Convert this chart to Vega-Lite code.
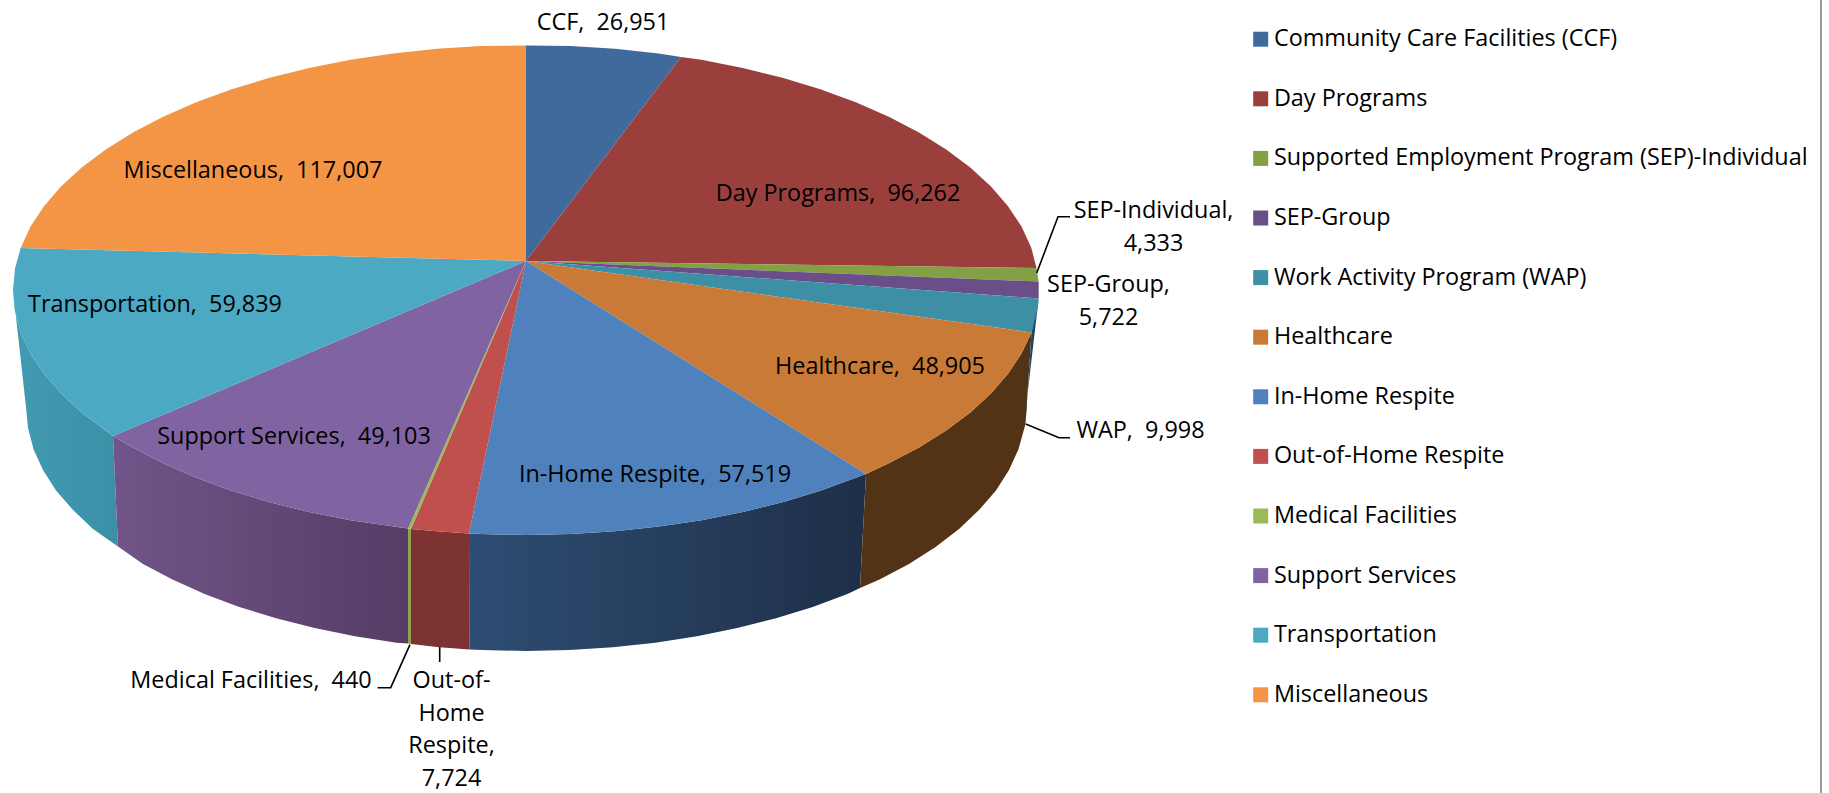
{"$schema":"https://vega.github.io/schema/vega-lite/v6.json","width":1829,"height":793,"padding":0,"autosize":{"type":"none"},"background":"white","view":{"stroke":null},
"config":{"font":"Open Sans"},
"datasets":{
"top":[
{"c":"Community Care Facilities (CCF)","s":0,"x":526,"y":261},{"c":"Community Care Facilities (CCF)","s":1,"x":526,"y":45.5},{"c":"Community Care Facilities (CCF)","s":2,"x":570.7,"y":46},{"c":"Community Care Facilities (CCF)","s":3,"x":615,"y":48.7},{"c":"Community Care Facilities (CCF)","s":4,"x":658.8,"y":53.4},{"c":"Community Care Facilities (CCF)","s":5,"x":681,"y":57},
{"c":"Day Programs","s":0,"x":526,"y":261},{"c":"Day Programs","s":1,"x":681,"y":57},{"c":"Day Programs","s":2,"x":701.5,"y":59.8},{"c":"Day Programs","s":3,"x":742.8,"y":68},{"c":"Day Programs","s":4,"x":782.5,"y":77.8},{"c":"Day Programs","s":5,"x":820.3,"y":89.3},{"c":"Day Programs","s":6,"x":855.8,"y":102.3},{"c":"Day Programs","s":7,"x":888.8,"y":116.8},{"c":"Day Programs","s":8,"x":919,"y":132.5},{"c":"Day Programs","s":9,"x":946.2,"y":149.5},{"c":"Day Programs","s":10,"x":970.3,"y":167.5},{"c":"Day Programs","s":11,"x":991,"y":186.5},{"c":"Day Programs","s":12,"x":1008,"y":206.2},{"c":"Day Programs","s":13,"x":1021.5,"y":226.6},{"c":"Day Programs","s":14,"x":1031.2,"y":247.5},{"c":"Day Programs","s":15,"x":1036.5,"y":268},
{"c":"Supported Employment Program (SEP)-Individual","s":0,"x":526,"y":261},{"c":"Supported Employment Program (SEP)-Individual","s":1,"x":1036.5,"y":268},{"c":"Supported Employment Program (SEP)-Individual","s":2,"x":1038.7,"y":281.5},
{"c":"SEP-Group","s":0,"x":526,"y":261},{"c":"SEP-Group","s":1,"x":1038.7,"y":281.5},{"c":"SEP-Group","s":2,"x":1038.7,"y":298.5},
{"c":"Work Activity Program (WAP)","s":0,"x":526,"y":261},{"c":"Work Activity Program (WAP)","s":1,"x":1038.7,"y":298.5},{"c":"Work Activity Program (WAP)","s":2,"x":1037,"y":311.4},{"c":"Work Activity Program (WAP)","s":3,"x":1031.5,"y":332.5},
{"c":"Healthcare","s":0,"x":526,"y":261},{"c":"Healthcare","s":1,"x":1031.5,"y":332.5},{"c":"Healthcare","s":2,"x":1021.5,"y":353.4},{"c":"Healthcare","s":3,"x":1008,"y":373.8},{"c":"Healthcare","s":4,"x":991,"y":393.5},{"c":"Healthcare","s":5,"x":970.3,"y":412.5},{"c":"Healthcare","s":6,"x":946.2,"y":430.5},{"c":"Healthcare","s":7,"x":919,"y":447.5},{"c":"Healthcare","s":8,"x":888.8,"y":463.2},{"c":"Healthcare","s":9,"x":866,"y":474},
{"c":"In-Home Respite","s":0,"x":526,"y":261},{"c":"In-Home Respite","s":1,"x":866,"y":474},{"c":"In-Home Respite","s":2,"x":820.3,"y":490.7},{"c":"In-Home Respite","s":3,"x":782.5,"y":502.2},{"c":"In-Home Respite","s":4,"x":742.8,"y":512},{"c":"In-Home Respite","s":5,"x":701.5,"y":520.2},{"c":"In-Home Respite","s":6,"x":658.8,"y":526.6},{"c":"In-Home Respite","s":7,"x":615,"y":531.3},{"c":"In-Home Respite","s":8,"x":570.7,"y":534},{"c":"In-Home Respite","s":9,"x":526,"y":535},{"c":"In-Home Respite","s":10,"x":481.3,"y":534},{"c":"In-Home Respite","s":11,"x":469,"y":533.5},
{"c":"Out-of-Home Respite","s":0,"x":526,"y":261},{"c":"Out-of-Home Respite","s":1,"x":469,"y":533.5},{"c":"Out-of-Home Respite","s":2,"x":437,"y":531.3},{"c":"Out-of-Home Respite","s":3,"x":411,"y":529},
{"c":"Medical Facilities","s":0,"x":526,"y":261},{"c":"Medical Facilities","s":1,"x":411,"y":529},{"c":"Medical Facilities","s":2,"x":408,"y":528.5},
{"c":"Support Services","s":0,"x":526,"y":261},{"c":"Support Services","s":1,"x":408,"y":528.5},{"c":"Support Services","s":2,"x":350.5,"y":520.2},{"c":"Support Services","s":3,"x":309.2,"y":512},{"c":"Support Services","s":4,"x":269.5,"y":502.2},{"c":"Support Services","s":5,"x":231.7,"y":490.7},{"c":"Support Services","s":6,"x":196.2,"y":477.7},{"c":"Support Services","s":7,"x":163.2,"y":463.2},{"c":"Support Services","s":8,"x":133,"y":447.5},{"c":"Support Services","s":9,"x":113,"y":436},
{"c":"Transportation","s":0,"x":526,"y":261},{"c":"Transportation","s":1,"x":113,"y":436},{"c":"Transportation","s":2,"x":105.8,"y":430.5},{"c":"Transportation","s":3,"x":81.7,"y":412.5},{"c":"Transportation","s":4,"x":61,"y":393.5},{"c":"Transportation","s":5,"x":44,"y":373.8},{"c":"Transportation","s":6,"x":30.5,"y":353.4},{"c":"Transportation","s":7,"x":20.8,"y":332.5},{"c":"Transportation","s":8,"x":15,"y":311.4},{"c":"Transportation","s":9,"x":13,"y":290},{"c":"Transportation","s":10,"x":15,"y":268.6},{"c":"Transportation","s":11,"x":20.7,"y":248},
{"c":"Miscellaneous","s":0,"x":526,"y":261},{"c":"Miscellaneous","s":1,"x":20.7,"y":248},{"c":"Miscellaneous","s":2,"x":30.5,"y":226.6},{"c":"Miscellaneous","s":3,"x":44,"y":206.2},{"c":"Miscellaneous","s":4,"x":61,"y":186.5},{"c":"Miscellaneous","s":5,"x":81.7,"y":167.5},{"c":"Miscellaneous","s":6,"x":105.8,"y":149.5},{"c":"Miscellaneous","s":7,"x":133,"y":132.5},{"c":"Miscellaneous","s":8,"x":163.2,"y":116.8},{"c":"Miscellaneous","s":9,"x":196.2,"y":102.3},{"c":"Miscellaneous","s":10,"x":231.7,"y":89.3},{"c":"Miscellaneous","s":11,"x":269.5,"y":77.8},{"c":"Miscellaneous","s":12,"x":309.2,"y":68},{"c":"Miscellaneous","s":13,"x":350.5,"y":59.8},{"c":"Miscellaneous","s":14,"x":393.2,"y":53.4},{"c":"Miscellaneous","s":15,"x":437,"y":48.7},{"c":"Miscellaneous","s":16,"x":481.3,"y":46},{"c":"Miscellaneous","s":17,"x":526,"y":45.5}
],
"walls":[
{"c":"Healthcare","s":1,"x":1031.5,"y":332.5},{"c":"Healthcare","s":2,"x":1021.5,"y":353.4},{"c":"Healthcare","s":3,"x":1008,"y":373.8},{"c":"Healthcare","s":4,"x":991,"y":393.5},{"c":"Healthcare","s":5,"x":970.3,"y":412.5},{"c":"Healthcare","s":6,"x":946.2,"y":430.5},{"c":"Healthcare","s":7,"x":919,"y":447.5},{"c":"Healthcare","s":8,"x":888.8,"y":463.2},{"c":"Healthcare","s":9,"x":866,"y":474},{"c":"Healthcare","s":10,"x":860,"y":588},{"c":"Healthcare","s":11,"x":879.6,"y":579.5},{"c":"Healthcare","s":12,"x":909,"y":564},{"c":"Healthcare","s":13,"x":935.6,"y":547},{"c":"Healthcare","s":14,"x":959,"y":529},{"c":"Healthcare","s":15,"x":979,"y":510},{"c":"Healthcare","s":16,"x":996,"y":490.5},{"c":"Healthcare","s":17,"x":1009,"y":470},{"c":"Healthcare","s":18,"x":1018.4,"y":449.4},{"c":"Healthcare","s":19,"x":1025.5,"y":424},
{"c":"Work Activity Program (WAP)","s":1,"x":1038.7,"y":298.5},{"c":"Work Activity Program (WAP)","s":2,"x":1031.5,"y":332.5},{"c":"Work Activity Program (WAP)","s":3,"x":1025.5,"y":424},{"c":"Work Activity Program (WAP)","s":4,"x":1026,"y":407},
{"c":"In-Home Respite","s":1,"x":866,"y":474},{"c":"In-Home Respite","s":2,"x":820.3,"y":490.7},{"c":"In-Home Respite","s":3,"x":782.5,"y":502.2},{"c":"In-Home Respite","s":4,"x":742.8,"y":512},{"c":"In-Home Respite","s":5,"x":701.5,"y":520.2},{"c":"In-Home Respite","s":6,"x":658.8,"y":526.6},{"c":"In-Home Respite","s":7,"x":615,"y":531.3},{"c":"In-Home Respite","s":8,"x":570.7,"y":534},{"c":"In-Home Respite","s":9,"x":526,"y":535},{"c":"In-Home Respite","s":10,"x":481.3,"y":534},{"c":"In-Home Respite","s":11,"x":469,"y":533.5},{"c":"In-Home Respite","s":12,"x":469.4,"y":649.4},{"c":"In-Home Respite","s":13,"x":482.4,"y":650},{"c":"In-Home Respite","s":14,"x":526,"y":651},{"c":"In-Home Respite","s":15,"x":569.6,"y":650},{"c":"In-Home Respite","s":16,"x":612.8,"y":647.3},{"c":"In-Home Respite","s":17,"x":655.4,"y":642.7},{"c":"In-Home Respite","s":18,"x":697,"y":636.3},{"c":"In-Home Respite","s":19,"x":737.3,"y":628.1},{"c":"In-Home Respite","s":20,"x":776,"y":618.3},{"c":"In-Home Respite","s":21,"x":812.8,"y":606.9},{"c":"In-Home Respite","s":22,"x":847.4,"y":593.9},{"c":"In-Home Respite","s":23,"x":860,"y":588},
{"c":"Out-of-Home Respite","s":1,"x":469,"y":533.5},{"c":"Out-of-Home Respite","s":2,"x":437,"y":531.3},{"c":"Out-of-Home Respite","s":3,"x":411,"y":529},{"c":"Out-of-Home Respite","s":4,"x":411,"y":644},{"c":"Out-of-Home Respite","s":5,"x":439.2,"y":647.3},{"c":"Out-of-Home Respite","s":6,"x":469.4,"y":649.4},
{"c":"Medical Facilities","s":1,"x":411,"y":529},{"c":"Medical Facilities","s":2,"x":408,"y":528.5},{"c":"Medical Facilities","s":3,"x":408,"y":643.5},{"c":"Medical Facilities","s":4,"x":411,"y":644},
{"c":"Support Services","s":1,"x":408,"y":528.5},{"c":"Support Services","s":2,"x":350.5,"y":520.2},{"c":"Support Services","s":3,"x":309.2,"y":512},{"c":"Support Services","s":4,"x":269.5,"y":502.2},{"c":"Support Services","s":5,"x":231.7,"y":490.7},{"c":"Support Services","s":6,"x":196.2,"y":477.7},{"c":"Support Services","s":7,"x":163.2,"y":463.2},{"c":"Support Services","s":8,"x":133,"y":447.5},{"c":"Support Services","s":9,"x":113,"y":436},{"c":"Support Services","s":10,"x":118,"y":546.5},{"c":"Support Services","s":11,"x":143,"y":564},{"c":"Support Services","s":12,"x":172.4,"y":579.5},{"c":"Support Services","s":13,"x":204.6,"y":593.9},{"c":"Support Services","s":14,"x":239.2,"y":606.9},{"c":"Support Services","s":15,"x":276,"y":618.3},{"c":"Support Services","s":16,"x":314.7,"y":628.1},{"c":"Support Services","s":17,"x":355,"y":636.3},{"c":"Support Services","s":18,"x":396.6,"y":642.7},{"c":"Support Services","s":19,"x":408,"y":643.5},
{"c":"Transportation","s":1,"x":113,"y":436},{"c":"Transportation","s":2,"x":81.7,"y":412.5},{"c":"Transportation","s":3,"x":61,"y":393.5},{"c":"Transportation","s":4,"x":44,"y":373.8},{"c":"Transportation","s":5,"x":30.5,"y":353.4},{"c":"Transportation","s":6,"x":20.8,"y":332.5},{"c":"Transportation","s":7,"x":15,"y":311.4},{"c":"Transportation","s":8,"x":13,"y":290},{"c":"Transportation","s":9,"x":26,"y":407},{"c":"Transportation","s":10,"x":28,"y":428},{"c":"Transportation","s":11,"x":33.6,"y":449.4},{"c":"Transportation","s":12,"x":43,"y":470},{"c":"Transportation","s":13,"x":56,"y":490.5},{"c":"Transportation","s":14,"x":73,"y":510},{"c":"Transportation","s":15,"x":93,"y":529},{"c":"Transportation","s":16,"x":118,"y":546.5}
],
"leaders":[
{"c":"SEP-Individual","s":1,"x":1036.7,"y":273},{"c":"SEP-Individual","s":2,"x":1058,"y":216.7},{"c":"SEP-Individual","s":3,"x":1070,"y":216.7},
{"c":"WAP","s":1,"x":1025.7,"y":424},{"c":"WAP","s":2,"x":1059,"y":437.7},{"c":"WAP","s":3,"x":1070,"y":437.7},
{"c":"Medical","s":1,"x":410,"y":644.7},{"c":"Medical","s":2,"x":390.7,"y":687.7},{"c":"Medical","s":3,"x":377.6,"y":687.7},
{"c":"Out","s":1,"x":439.7,"y":647},{"c":"Out","s":2,"x":439.7,"y":662}
],
"border":[{"s":1,"x":1821,"y":0},{"s":2,"x":1821,"y":793}],
"labels":[
{"category":"Community Care Facilities (CCF)","value":26951,"label":"CCF, \u00a026,951","x":603,"y":23},
{"category":"Day Programs","value":96262,"label":"Day Programs, \u00a096,262","x":838,"y":194},
{"category":"Supported Employment Program (SEP)-Individual","value":4333,"label":"SEP-Individual,\n4,333","x":1153.5,"y":211},
{"category":"SEP-Group","value":5722,"label":"SEP-Group,\n5,722","x":1108.5,"y":285},
{"category":"Work Activity Program (WAP)","value":9998,"label":"WAP, \u00a09,998","x":1140.5,"y":431},
{"category":"Healthcare","value":48905,"label":"Healthcare, \u00a048,905","x":880,"y":367},
{"category":"In-Home Respite","value":57519,"label":"In-Home Respite, \u00a057,519","x":655,"y":475},
{"category":"Out-of-Home Respite","value":7724,"label":"Out-of-\nHome\nRespite,\n7,724","x":451.5,"y":681},
{"category":"Medical Facilities","value":440,"label":"Medical Facilities, \u00a0440","x":251,"y":681},
{"category":"Support Services","value":49103,"label":"Support Services, \u00a049,103","x":294,"y":437},
{"category":"Transportation","value":59839,"label":"Transportation, \u00a059,839","x":155,"y":305},
{"category":"Miscellaneous","value":117007,"label":"Miscellaneous, \u00a0117,007","x":253,"y":171}
]},
"encoding":{
"x":{"field":"x","type":"quantitative","scale":{"domain":[0,1829],"nice":false,"zero":false},"axis":null},
"y":{"field":"y","type":"quantitative","scale":{"domain":[0,793],"nice":false,"zero":false,"reverse":true},"axis":null}},
"layer":[
{"data":{"name":"border"},"mark":{"type":"line","color":"#999999","strokeWidth":2},"encoding":{"order":{"field":"s"}}},
{"data":{"name":"walls"},"transform":[{"filter":"datum.c==='Transportation'"}],"mark":{"type":"line","strokeWidth":0,"fill":{"gradient":"linear","x1":0,"y1":0,"x2":1,"y2":0,"stops":[{"offset":0,"color":"#419bb1"},{"offset":1,"color":"#3c8fa6"}]}},"encoding":{"order":{"field":"s"}}},
{"data":{"name":"walls"},"transform":[{"filter":"datum.c==='Support Services'"}],"mark":{"type":"line","strokeWidth":0,"fill":{"gradient":"linear","x1":0,"y1":0,"x2":1,"y2":0,"stops":[{"offset":0,"color":"#715489"},{"offset":1,"color":"#553d66"}]}},"encoding":{"order":{"field":"s"}}},
{"data":{"name":"walls"},"transform":[{"filter":"datum.c==='Medical Facilities'"}],"mark":{"type":"line","strokeWidth":0,"fill":"#8fa352"},"encoding":{"order":{"field":"s"}}},
{"data":{"name":"walls"},"transform":[{"filter":"datum.c==='Out-of-Home Respite'"}],"mark":{"type":"line","strokeWidth":0,"fill":"#7c3331"},"encoding":{"order":{"field":"s"}}},
{"data":{"name":"walls"},"transform":[{"filter":"datum.c==='In-Home Respite'"}],"mark":{"type":"line","strokeWidth":0,"fill":{"gradient":"linear","x1":0,"y1":0,"x2":1,"y2":0,"stops":[{"offset":0,"color":"#2e4d73"},{"offset":1,"color":"#1e2f48"}]}},"encoding":{"order":{"field":"s"}}},
{"data":{"name":"walls"},"transform":[{"filter":"datum.c==='Healthcare'"}],"mark":{"type":"line","strokeWidth":0,"fill":"#533315"},"encoding":{"order":{"field":"s"}}},
{"data":{"name":"walls"},"transform":[{"filter":"datum.c==='Work Activity Program (WAP)'"}],"mark":{"type":"line","strokeWidth":0,"fill":"#1d4a5a"},"encoding":{"order":{"field":"s"}}},
{"data":{"name":"top"},"mark":{"type":"line","filled":true,"strokeWidth":0},"encoding":{"order":{"field":"s"},
"color":{"field":"c","type":"nominal","scale":{"domain":["Community Care Facilities (CCF)","Day Programs","Supported Employment Program (SEP)-Individual","SEP-Group","Work Activity Program (WAP)","Healthcare","In-Home Respite","Out-of-Home Respite","Medical Facilities","Support Services","Transportation","Miscellaneous"],"range":["#3f6a9b","#9a3f3c","#83a045","#6a4e88","#3d8fa6","#c97a36","#4f81bd","#c0504d","#9bbb59","#8064a2","#4ba9c4","#f49445"]},
"legend":{"title":null,"orient":"none","legendX":1249,"legendY":27.5,"symbolType":"square","symbolSize":225,"symbolStrokeWidth":0,"labelFont":"Open Sans","labelFontSize":23.4,"labelColor":"#000","labelLimit":600,"labelOffset":1.5,"rowPadding":34.6,"padding":0}}}},
{"data":{"name":"leaders"},"mark":{"type":"line","color":"#000","strokeWidth":1.6},"encoding":{"order":{"field":"s"},"detail":{"field":"c"}}},
{"data":{"name":"labels"},"mark":{"type":"text","font":"Open Sans","fontSize":23.4,"color":"#000","lineBreak":"\n","lineHeight":32.7,"align":"center","baseline":"middle"},"encoding":{"text":{"field":"label"}}}
]}
